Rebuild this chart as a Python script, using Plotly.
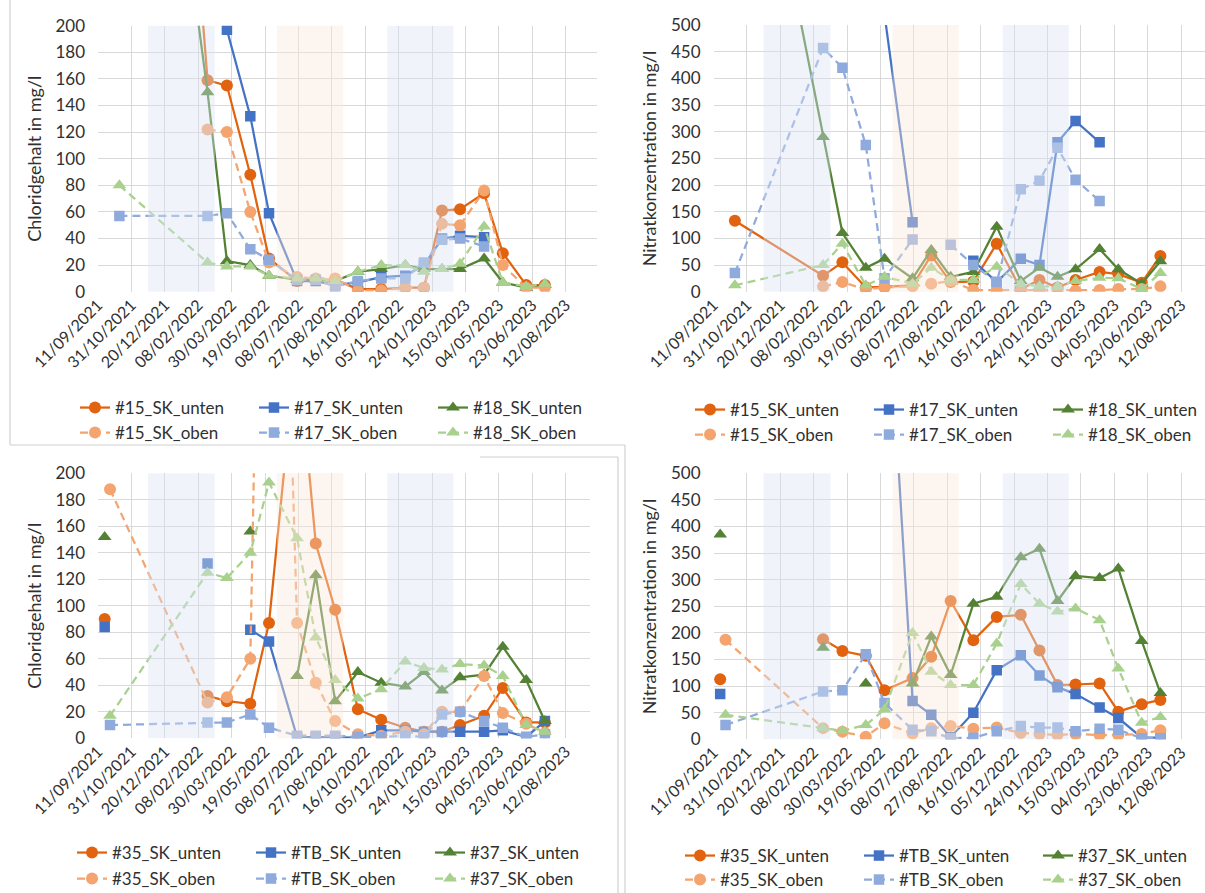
import datetime as dt
import plotly.graph_objects as go

# ---------------- data ----------------
tick_labels = ["11/09/2021", "31/10/2021", "20/12/2021", "08/02/2022", "30/03/2022",
               "19/05/2022", "08/07/2022", "27/08/2022", "16/10/2022", "05/12/2022",
               "24/01/2023", "15/03/2023", "04/05/2023", "23/06/2023", "12/08/2023"]

common_dates = ["2022-02-22", "2022-03-23", "2022-04-27", "2022-05-25", "2022-07-06",
                "2022-08-03", "2022-09-01", "2022-10-05", "2022-11-09", "2022-12-15",
                "2023-01-12", "2023-02-08", "2023-03-07", "2023-04-12", "2023-05-10",
                "2023-06-14", "2023-07-12"]
top_dates = ["2021-10-13"] + common_dates
bottom_dates = ["2021-09-21", "2021-09-29"] + common_dates

# shaded seasons (winter, summer, winter)
band_starts = ["2021-11-25", "2022-06-06", "2022-11-18"]
band_ends = ["2022-03-05", "2022-09-13", "2023-02-25"]
band_kind = ["winter", "summer", "winter"]

# top-left: chloride
cl15_u = [1000, 159, 155, 88, 25, 8, 9, 9, 2, 2, 3, 3, 61, 62, 74, 29, 5, 5]
cl15_o = [None, 122, 120, 60, 22, 11, 10, 10, 1, 1, 3, 3, 51, 50, 76, 20, 3, 3]
cl17_u = [None, None, 197, 132, 59, 8, 8, 5, 7, 11, 12, 20, 40, 42, 41, None, None, None]
cl17_o = [57, 57, 59, 32, 24, 9, 9, 4, 8, 10, 10, 22, 39, 40, 34, None, None, None]
cl18_u = [650, 150, 23, 20, 12, 9, 9, 8, 15, 17, 20, 17, 17, 17, 25, 7, 3, 5]
cl18_o = [80, 22, 19, 19, 12, 10, 10, 8, 15, 20, 20, 15, 17, 21, 49, 7, 4, 6]

# top-right: nitrate
no15_u = [133, 30, 55, 8, 9, 12, 68, 18, 19, 90, 5, 22, 8, 22, 37, 33, 17, 67]
no15_o = [None, 10, 18, 4, 8, 10, 15, 20, 3, 3, 2, 2, 2, 2, 3, 5, 5, 10]
no17_u = [None, None, None, None, 520, 130, None, None, 58, 18, 62, 50, 280, 320, 280, None, None, None]
no17_o = [35, 457, 420, 275, 25, 98, None, 88, 50, 18, 192, 208, 270, 210, 170, None, None, None]
no18_u = [1130, 290, 110, 45, 62, 25, 78, 28, 37, 122, 20, 45, 28, 42, 80, 42, 15, 57]
no18_o = [12, 50, 90, 12, 28, 15, 45, 22, 22, 47, 15, 10, 10, 20, 26, 25, 5, 35]

# bottom-left: chloride
cl35_u = [90, None, 32, 28, 26, 87, 300, 147, 97, 22, 14, 8, 5, 5, 10, 17, 38, 12, 12]
cl35_o = [None, 188, 27, 31, 60, 800, 87, 42, 13, 3, 2, 5, 3, 20, 20, 47, 19, 11, 4]
clTB_u = [84, None, 132, None, 82, 73, 1, 1, 1, 0.5, 6, 6, 5, 5, 5, 5, 6, 1, 13]
clTB_o = [None, 10, 12, 12, 18, 8, 2, 2, 2, 1, 1, 2, 1, 18, 20, 13, 8, 1, 3]
cl37_u = [152, None, None, None, 156, None, 47, 123, 28, 50, 42, 39, 50, 36, 46, 48, 69, 44, 13]
cl37_o = [None, 17, 125, 121, 140, 193, 151, 76, 44, 30, 37, 58, 53, 52, 56, 55, 47, 10, 5]

# bottom-right: nitrate
no35_u = [113, None, 188, 166, 157, 92, 115, 155, 260, 186, 230, 234, 167, 102, 103, 105, 52, 66, 74]
no35_o = [None, 187, 21, 14, 5, 30, 11, 21, 25, 20, 22, 12, 10, 8, 10, 8, 8, 10, 17]
noTB_u = [85, None, None, None, None, 950, 72, 46, 4, 50, 130, 158, 120, 98, 85, 60, 40, 3, 3]
noTB_o = [None, 27, 90, 92, 160, 68, 18, 15, 2, 3, 15, 25, 22, 22, 15, 20, 18, 2, 2]
no37_u = [385, None, 172, None, 105, None, 105, 193, 121, 255, 268, 342, 358, 260, 307, 303, 321, 185, 87]
no37_o = [None, 46, 21, 16, 27, 56, 200, 127, 102, 102, 180, 292, 255, 240, 246, 224, 133, 31, 42]

# ---------------- styling ----------------
W, H = 1205, 893
FONT = "Lato"
TXT = "#303030"
GRID = "#D9D9D9"
C_OR_D, C_OR_L = "#E2630F", "#F4A46E"
C_BL_D, C_BL_L = "#4472C4", "#8FAADC"
C_GR_D, C_GR_L = "#548235", "#A9D18E"
BAND_COL = {"winter": "#DAE3F3", "summer": "#FBE5D6"}

START = dt.datetime(2021, 9, 11)
PX_PER_DAY = 33.4 / 50.0


def fx(px):
    return px / W


def fy(py):
    return (H - py) / H


panels = [
    dict(ax="", left=98, right=597, top=25.7, bottom=291.7, ymax=200, dy=20,
         title="Chloridgehalt in mg/l", tx=34, dates=top_dates,
         leg_y=(408, 433), leg_x=75,
         series=[("#15_SK_unten", cl15_u, C_OR_D, "solid", "circle", 0),
                 ("#17_SK_unten", cl17_u, C_BL_D, "solid", "square", 0),
                 ("#18_SK_unten", cl18_u, C_GR_D, "solid", "triangle-up", 0),
                 ("#15_SK_oben", cl15_o, C_OR_L, "dash", "circle", 1),
                 ("#17_SK_oben", cl17_o, C_BL_L, "dash", "square", 1),
                 ("#18_SK_oben", cl18_o, C_GR_L, "dash", "triangle-up", 1)]),
    dict(ax="2", left=713.5, right=1205, top=25.0, bottom=291.7, ymax=500, dy=50,
         title="Nitratkonzentration in mg/l", tx=649, dates=top_dates,
         leg_y=(410, 435), leg_x=690,
         series=[("#15_SK_unten", no15_u, C_OR_D, "solid", "circle", 0),
                 ("#17_SK_unten", no17_u, C_BL_D, "solid", "square", 0),
                 ("#18_SK_unten", no18_u, C_GR_D, "solid", "triangle-up", 0),
                 ("#15_SK_oben", no15_o, C_OR_L, "dash", "circle", 1),
                 ("#17_SK_oben", no17_o, C_BL_L, "dash", "square", 1),
                 ("#18_SK_oben", no18_o, C_GR_L, "dash", "triangle-up", 1)]),
    dict(ax="3", left=98, right=590, top=473.3, bottom=738.3, ymax=200, dy=20,
         title="Chloridgehalt in mg/l", tx=34, dates=bottom_dates,
         leg_y=(853, 879), leg_x=72,
         series=[("#35_SK_unten", cl35_u, C_OR_D, "solid", "circle", 0),
                 ("#TB_SK_unten", clTB_u, C_BL_D, "solid", "square", 0),
                 ("#37_SK_unten", cl37_u, C_GR_D, "solid", "triangle-up", 0),
                 ("#35_SK_oben", cl35_o, C_OR_L, "dash", "circle", 1),
                 ("#TB_SK_oben", clTB_o, C_BL_L, "dash", "square", 1),
                 ("#37_SK_oben", cl37_o, C_GR_L, "dash", "triangle-up", 1)]),
    dict(ax="4", left=713.5, right=1205, top=473.3, bottom=739.3, ymax=500, dy=50,
         title="Nitratkonzentration in mg/l", tx=649, dates=bottom_dates,
         leg_y=(856, 880), leg_x=680,
         series=[("#35_SK_unten", no35_u, C_OR_D, "solid", "circle", 0),
                 ("#TB_SK_unten", noTB_u, C_BL_D, "solid", "square", 0),
                 ("#37_SK_unten", no37_u, C_GR_D, "solid", "triangle-up", 0),
                 ("#35_SK_oben", no35_o, C_OR_L, "dash", "circle", 1),
                 ("#TB_SK_oben", noTB_o, C_BL_L, "dash", "square", 1),
                 ("#37_SK_oben", no37_o, C_GR_L, "dash", "triangle-up", 1)]),
]

tick_vals = [dt.datetime.strptime(t, "%d/%m/%Y") for t in tick_labels]
sym_size = {"circle": 12, "square": 10.5, "triangle-up": 12}

fig = go.Figure()
layout = dict(width=W, height=H, margin=dict(l=0, r=0, t=0, b=0, autoexpand=False),
              paper_bgcolor="white", plot_bgcolor="white", showlegend=True,
              font=dict(family=FONT, size=16, color=TXT))
shapes, annotations = [], []

for pi, p in enumerate(panels):
    xa = "xaxis" + p["ax"]
    ya = "yaxis" + p["ax"]
    xref = "x" + p["ax"]
    yref = "y" + p["ax"]
    end = START + dt.timedelta(days=(p["right"] - p["left"]) / PX_PER_DAY)
    layout[xa] = dict(domain=[fx(p["left"]), min(1.0, fx(p["right"]))],
                      anchor=yref, type="date", range=[START, end], automargin=False,
                      tickvals=tick_vals, ticktext=tick_labels, tickangle=-45,
                      showgrid=True, gridcolor=GRID, gridwidth=1.3,
                      zeroline=False, showline=False, ticks="",
                      tickfont=dict(family=FONT, size=16, color=TXT))
    layout[ya] = dict(domain=[fy(p["bottom"]), fy(p["top"])], anchor=xref,
                      range=[0, p["ymax"]], dtick=p["dy"], tick0=0, automargin=False,
                      showgrid=True, gridcolor=GRID, gridwidth=1.3,
                      zeroline=False, showline=False, ticks="",
                      ticklabelstandoff=12,
                      tickfont=dict(family=FONT, size=17, color=TXT))
    annotations.append(dict(text=p["title"], textangle=-90, xref="paper", yref="paper",
                            x=fx(p["tx"]), y=fy((p["top"] + p["bottom"]) / 2),
                            xanchor="center", yanchor="middle", showarrow=False,
                            font=dict(family=FONT, size=18, color=TXT)))
    leg_names = ["legend" if pi == 0 else "legend%d" % (2 * pi + 1), "legend%d" % (2 * pi + 2)]
    for r in range(2):
        layout[leg_names[r]] = dict(orientation="h", x=fx(p["leg_x"]), y=fy(p["leg_y"][r]),
                                    xanchor="left", yanchor="middle",
                                    entrywidth=134, entrywidthmode="pixels",
                                    bgcolor="rgba(0,0,0,0)", borderwidth=0,
                                    font=dict(family=FONT, size=17, color=TXT),
                                    itemclick=False, itemdoubleclick=False)
    for name, vals, col, dash, sym, row in p["series"]:
        fig.add_trace(go.Scatter(
            x=p["dates"], y=vals, name=name, mode="lines+markers",
            xaxis=xref, yaxis=yref, connectgaps=False, cliponaxis=True,
            line=dict(color=col, width=2.25, dash="solid" if dash == "solid" else "8px,5px"),
            marker=dict(symbol=sym, size=sym_size[sym], color=col, line=dict(width=0)),
            legend=leg_names[row], showlegend=True))
    for b0, b1, kind in zip(band_starts, band_ends, band_kind):
        shapes.append(dict(type="rect", xref=xref, yref=yref + " domain",
                           x0=b0, x1=b1, y0=0, y1=1, layer="above",
                           fillcolor=BAND_COL[kind], opacity=0.4, line=dict(width=0)))

# chart frames
frame = dict(type="line", xref="paper", yref="paper", line=dict(color="#D0D0D0", width=1.2),
             layer="below")
for (x0, y0, x1, y1) in [(10, 0, 10, 445), (10, 445, 625, 445), (625, 445, 625, 893),
                         (480, 457, 618, 457), (618, 457, 618, 893)]:
    s = dict(frame)
    s.update(x0=fx(x0), y0=fy(y0), x1=fx(x1), y1=fy(y1))
    shapes.append(s)

layout["shapes"] = shapes
layout["annotations"] = annotations
fig.update_layout(**layout)
fig.write_html("out.html")
